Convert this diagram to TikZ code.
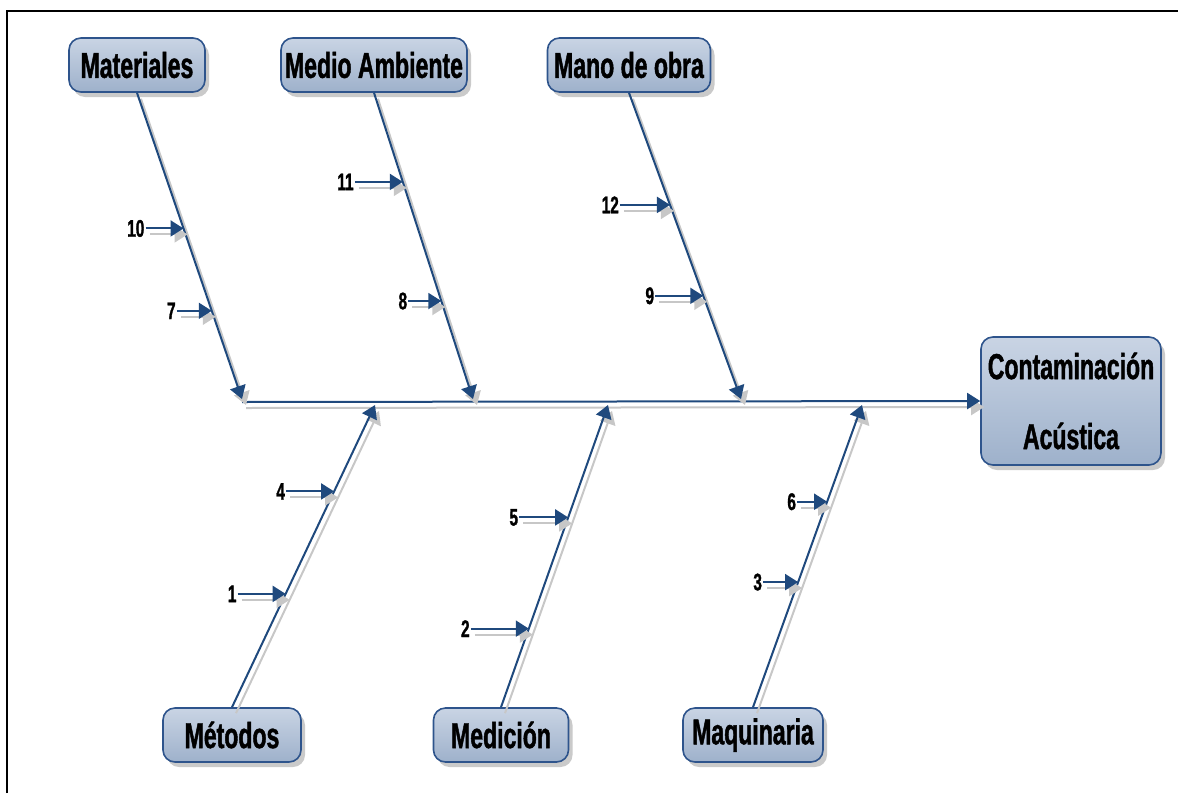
\documentclass[tikz,border=0pt]{standalone}
\usepackage{fontspec}
\setmainfont[FakeStretch=0.64,BoldFeatures={FakeBold=1.2}]{Liberation Sans}
\usetikzlibrary{arrows.meta,shadows,positioning}
\tikzset{>={Triangle[length=13pt,width=16pt]}}
\definecolor{bonecol}{RGB}{31,73,125}
\definecolor{boxtop}{RGB}{201,212,228}
\definecolor{boxbot}{RGB}{158,177,203}
\definecolor{boxline}{RGB}{46,84,140}
\tikzstyle{cause}=[draw=boxline,line width=1.6pt,rounded corners=12pt,
  top color=boxtop,bottom color=boxbot,minimum height=54pt,inner sep=0pt,
  font=\bfseries\fontsize{36}{40}\selectfont,
  drop shadow={shadow xshift=4pt,shadow yshift=-5pt,fill=black!35,opacity=0.6}]
\tikzstyle{effect}=[cause,minimum width=180pt,minimum height=128pt,align=center,
  font=\bfseries\fontsize{36}{70}\selectfont]
\tikzstyle{bone}=[->,line width=2pt,bonecol,
  preaction={draw=black!22,line width=2pt,transform canvas={shift={(4pt,-6pt)}}}]
\tikzstyle{num}=[inner sep=1pt,font=\bfseries\fontsize{24}{26}\selectfont]

\begin{document}
\begin{tikzpicture}[x=1pt,y=-1pt]
  \useasboundingbox (0,0) rectangle (1178,793);

  % FRAME
  \draw[line width=2.5pt] (7,793) -- (7,11) -- (1178,11);

  % BOXES
  \node[cause,minimum width=136pt] (mat) at (137,65) {Materiales};
  \node[cause,minimum width=186pt] (amb) at (374,65) {Medio Ambiente};
  \node[cause,minimum width=163pt] (mano) at (629,65) {Mano de obra};
  \node[cause,minimum width=138pt] (met) at (232,735) {Métodos};
  \node[cause,minimum width=135pt] (med) at (501,735) {Medición};
  \node[cause,minimum width=140pt] (maq) at (753,735) {Maquinaria};
  \node[effect] (eff) at (1071,401) {Contaminación\\Acústica};

  % SPINE
  \coordinate (s0) at (242,402);
  \draw[bone] (s0) -- (eff.west);

  % BONES
  \draw[bone] (mat.south) -- (242,399)
    coordinate[pos=0.443] (c10) coordinate[pos=0.712] (c7);
  \draw[bone] (amb.south) -- (473,399)
    coordinate[pos=0.291] (c11) coordinate[pos=0.68] (c8);
  \draw[bone] (mano.south) -- (741,399)
    coordinate[pos=0.366] (c12) coordinate[pos=0.663] (c9);
  \draw[bone] (met.north) -- (375,405)
    coordinate[pos=0.714] (c4) coordinate[pos=0.375] (c1);
  \draw[bone] (med.north) -- (608,405)
    coordinate[pos=0.628] (c5) coordinate[pos=0.26] (c2);
  \draw[bone] (maq.north) -- (862,405)
    coordinate[pos=0.68] (c6) coordinate[pos=0.414] (c3);

  % CAUSES
  \foreach \txt/\len in {10/38,7/35,11/48,8/33,12/50,9/48,4/48,1/48,5/49,2/58,6/30,3/35}{
    \node[num,left=\len pt of c\txt] (n\txt) {\txt};
    \draw[bone] (n\txt) -- (c\txt);
  }
\end{tikzpicture}
\end{document}
